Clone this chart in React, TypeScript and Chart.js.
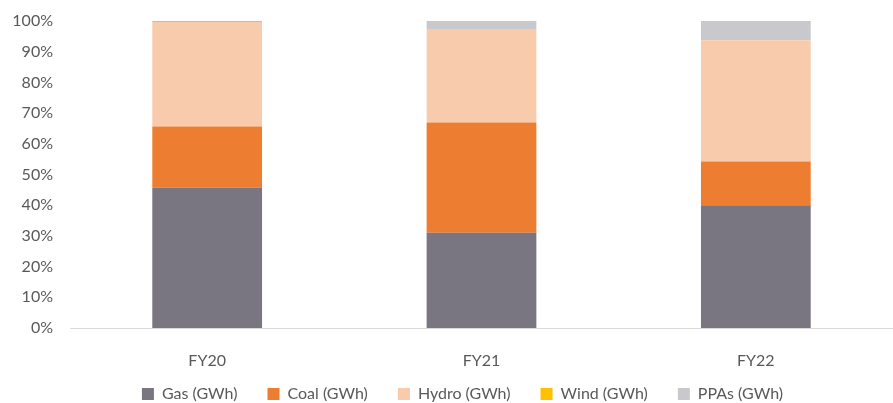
import React, { useEffect, useRef } from "react";
import { Chart, registerables } from "chart.js";

Chart.register(...registerables);

const categories = ["FY20", "FY21", "FY22"];
const gas = [45.7, 31.0, 40.0];
const coal = [19.9, 35.9, 14.2];
const hydro = [34.1, 30.5, 39.5];
const wind = [0.3, 0, 0];
const ppas = [0, 2.6, 6.3];

const font = "Lato, 'Open Sans', sans-serif";
const textColor = "#595959";

const layoutTweak = {
  id: "layoutTweak",
  afterLayout(chart: any) {
    const lg = chart.legend;
    if (lg) {
      lg.top += 9;
      lg.bottom += 9;
      lg.left += 16;
      lg.right += 16;
    }
    const x = chart.scales.x;
    if (x) {
      x.bottom = x.top + 48;
    }
  },
};

export default function App() {
  const ref = useRef<HTMLCanvasElement | null>(null);
  useEffect(() => {
    if (!ref.current) return;
    const mk = (label: string, data: number[], color: string) => ({
      label,
      data,
      backgroundColor: color,
      borderWidth: 0,
      barPercentage: 0.8,
      categoryPercentage: 0.5,
    });
    const chart = new Chart(ref.current, {
      type: "bar",
      data: {
        labels: categories,
        datasets: [
          mk("Gas (GWh)", gas, "#7A7681"),
          mk("Coal (GWh)", coal, "#ED7D31"),
          mk("Hydro (GWh)", hydro, "#F8CBAD"),
          mk("Wind (GWh)", wind, "#FFC000"),
          mk("PPAs (GWh)", ppas, "#C9C8CD"),
        ],
      },
      plugins: [layoutTweak],
      options: {
        animation: false,
        responsive: false,
        layout: { padding: { left: 0, right: 0, top: 21, bottom: 0 } },
        plugins: {
          tooltip: { enabled: false },
          legend: {
            position: "bottom",
            labels: {
              color: textColor,
              font: { family: font, size: 16 },
              boxWidth: 12,
              boxHeight: 12,
              padding: 30,
            },
          },
        },
        scales: {
          x: {
            stacked: true,
            grid: { display: false, drawTicks: false },
            border: { display: true, color: "#D9D9D9", width: 1 },
            ticks: { color: textColor, font: { family: font, size: 16 }, padding: 23 },
            afterFit: (scale: any) => {
              scale.height = 19;
            },
          },
          y: {
            stacked: true,
            min: 0,
            max: 100,
            grid: { display: false, drawTicks: false },
            border: { display: false },
            ticks: {
              stepSize: 10,
              color: textColor,
              font: { family: font, size: 16 },
              padding: 17,
              callback: (v: any) => v + "%",
            },
            afterFit: (scale: any) => {
              scale.width = 70;
              scale.paddingTop = 0;
              scale.paddingBottom = 0;
            },
          },
        },
      },
    });
    return () => chart.destroy();
  }, []);
  return (
    <div style={{ position: "fixed", left: 0, top: 0, width: 893, height: 403, background: "#fff" }}>
      <canvas ref={ref} width={893} height={403} />
    </div>
  );
}
